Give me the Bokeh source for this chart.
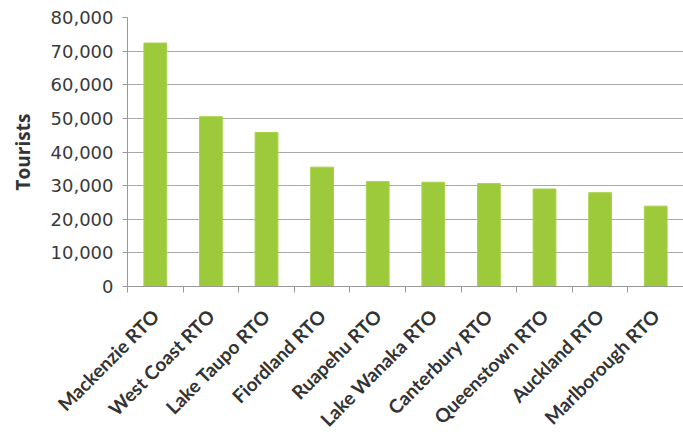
import numpy as np
from bokeh.plotting import figure
from bokeh.models import Range1d, FixedTicker, NumeralTickFormatter, ColumnDataSource
from bokeh.embed import file_html
from bokeh.resources import INLINE

categories = ["Mackenzie RTO", "West Coast RTO", "Lake Taupo RTO", "Fiordland RTO",
              "Ruapehu RTO", "Lake Wanaka RTO", "Canterbury RTO", "Queenstown RTO",
              "Auckland RTO", "Marlborough RTO"]
tourists = [72400, 50500, 45800, 35500, 31200, 31000, 30600, 29000, 27900, 23900]
y_ticks = [0, 10000, 20000, 30000, 40000, 50000, 60000, 70000, 80000]
y_axis_title = "Tourists"

centers = np.arange(len(categories)) + 0.5
bounds = list(np.arange(len(categories) + 1).astype(float))

src = ColumnDataSource(dict(x=centers, top=tourists, name=categories))

p = figure(width=683, height=441, output_backend="svg", toolbar_location=None,
           x_range=Range1d(0, len(categories)), y_range=Range1d(y_ticks[0], y_ticks[-1]),
           min_border_left=127, min_border_top=17, min_border_right=0, min_border_bottom=153)
p.outline_line_color = None
p.background_fill_color = "white"
p.border_fill_color = "white"

p.vbar(x="x", top="top", width=0.41, source=src, fill_color="#9dca3a", line_color="#a8d24a", line_width=1)

# y axis
p.yaxis.ticker = FixedTicker(ticks=y_ticks)
p.yaxis.formatter = NumeralTickFormatter(format="0,0")
p.yaxis.axis_label = y_axis_title
p.yaxis.axis_label_text_font = "Open Sans"
p.yaxis.axis_label_text_font_style = "bold"
p.yaxis.axis_label_text_font_size = "19px"
p.yaxis.axis_label_text_color = "#333333"
p.yaxis.axis_label_standoff = 12
p.yaxis.major_label_text_font = "DejaVu Sans"
p.yaxis.major_label_text_font_size = "18px"
p.yaxis.major_label_text_color = "#3a3a3a"
p.yaxis.major_label_standoff = 9
p.yaxis.major_tick_out = 5
p.yaxis.major_tick_in = 0
p.yaxis.minor_tick_line_color = None
p.yaxis.axis_line_color = "#999999"
p.yaxis.major_tick_line_color = "#999999"

# x axis: labels at category centres, ticks at category boundaries
p.xaxis.ticker = FixedTicker(ticks=list(centers), minor_ticks=bounds)
p.xaxis.major_label_overrides = {float(c): n for c, n in zip(centers, categories)}
p.xaxis.major_label_orientation = np.pi / 4
p.xaxis.major_label_text_font = "Lato"
p.xaxis.major_label_text_font_style = "bold"
p.xaxis.major_label_text_font_size = "19px"
p.xaxis.major_label_text_color = "#333333"
p.xaxis.major_label_standoff = 20
p.xaxis.major_tick_line_color = None
p.xaxis.major_tick_out = 0
p.xaxis.major_tick_in = 0
p.xaxis.minor_tick_out = 6
p.xaxis.minor_tick_in = 0
p.xaxis.minor_tick_line_color = "#999999"
p.xaxis.axis_line_color = "#999999"

p.xgrid.grid_line_color = None
p.ygrid.grid_line_color = "#a8a8a8"
p.ygrid.grid_line_width = 1

open("out.html", "w").write(file_html(p, INLINE))
